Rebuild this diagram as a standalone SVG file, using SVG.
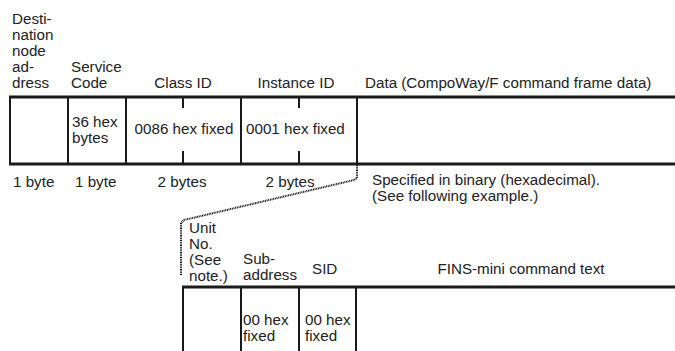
<svg xmlns="http://www.w3.org/2000/svg" width="675" height="351" viewBox="0 0 675 351">
<style>
text{font-family:"Liberation Sans",Arial,sans-serif;font-size:15.2px;fill:#222}
.c{text-anchor:middle}
.h{stroke:#1a1a1a;stroke-width:3;fill:none}
.v{stroke:#1a1a1a;stroke-width:2;fill:none}
.dot{stroke:#1a1a1a;stroke-width:2;stroke-dasharray:1 0.7;fill:none}
</style>
<rect width="675" height="351" fill="#fff"/>
<g id="frame1">
<line class="h" x1="9" y1="97" x2="675" y2="97"/>
<line class="h" x1="9" y1="164" x2="675" y2="164"/>
<line class="v" x1="10" y1="96" x2="10" y2="165"/>
<line class="v" x1="68" y1="96" x2="68" y2="165"/>
<line class="v" x1="126" y1="96" x2="126" y2="165"/>
<line class="v" x1="241" y1="96" x2="241" y2="165"/>
<line class="v" x1="357" y1="96" x2="357" y2="165"/>
<line class="v" x1="183" y1="97" x2="183" y2="108"/>
<line class="v" x1="183" y1="151" x2="183" y2="164"/>
<line class="v" x1="299" y1="97" x2="299" y2="108"/>
<line class="v" x1="299" y1="151" x2="299" y2="164"/>
</g>
<g id="dest">
<text x="12" y="24">Desti-</text>
<text x="12" y="40">nation</text>
<text x="12" y="56">node</text>
<text x="12" y="72">ad-</text>
<text x="12" y="88">dress</text>
<text x="13" y="187">1 byte</text>
</g>
<g id="service">
<text x="71" y="72">Service</text>
<text x="71" y="88">Code</text>
<text x="72" y="127">36 hex</text>
<text x="72" y="143">bytes</text>
<text x="75" y="187">1 byte</text>
</g>
<g id="classid">
<text class="c" x="183" y="88">Class ID</text>
<text class="c" x="184" y="134">0086 hex fixed</text>
<text class="c" x="182" y="187">2 bytes</text>
</g>
<g id="instanceid">
<text class="c" x="296" y="88">Instance ID</text>
<text x="246" y="134">0001 hex fixed</text>
<text class="c" x="290" y="187">2 bytes</text>
</g>
<g id="data">
<text x="365" y="88">Data (CompoWay/F command frame data)</text>
<text x="372" y="185">Specified in binary (hexadecimal).</text>
<text x="372" y="201">(See following example.)</text>
</g>
<g id="connectors">
<path class="dot" d="M357,165 V178 L354,180 L184,220 L181,223 V275"/>
</g>
<g id="frame2">
<line class="h" x1="182" y1="287" x2="675" y2="287"/>
<line class="v" x1="183" y1="286" x2="183" y2="351"/>
<line class="v" x1="241" y1="286" x2="241" y2="351"/>
<line class="v" x1="299" y1="286" x2="299" y2="351"/>
<line class="v" x1="356" y1="286" x2="356" y2="351"/>
</g>
<g id="unitno">
<text x="189" y="233">Unit</text>
<text x="189" y="249">No.</text>
<text x="189" y="265">(See</text>
<text x="189" y="281">note.)</text>
</g>
<g id="subaddress">
<text x="243" y="264">Sub-</text>
<text x="243" y="280">address</text>
<text x="243" y="325">00 hex</text>
<text x="243" y="341">fixed</text>
</g>
<g id="sid">
<text x="312" y="274">SID</text>
<text x="305" y="325">00 hex</text>
<text x="305" y="341">fixed</text>
</g>
<g id="fins">
<text class="c" x="521" y="274">FINS-mini command text</text>
</g>
</svg>
